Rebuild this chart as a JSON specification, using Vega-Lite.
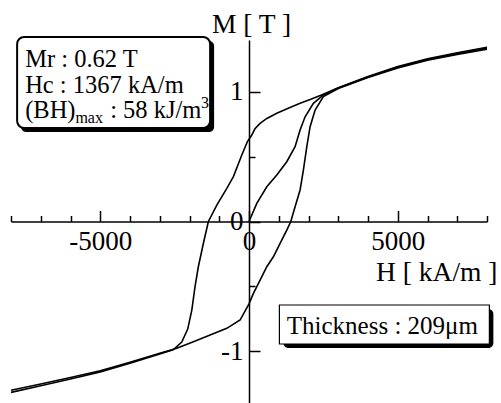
{
  "$schema": "https://vega.github.io/schema/vega-lite/v6.json",
  "width": 476,
  "height": 363,
  "autosize": {"type": "none"},
  "padding": {"left": 11, "top": 40, "right": 14, "bottom": 0},
  "background": "white",
  "config": {"view": {"stroke": null}, "font": "Liberation Serif", "axis": {"labelOverlap": false}},
  "resolve": {"axis": {"x": "independent", "y": "independent"}},
  "layer": [
    {
      "data": {"values": [
        {"branch": "desc", "i": 1, "H": 8000, "M": 1.344},
        {"branch": "desc", "i": 2, "H": 7000, "M": 1.302},
        {"branch": "desc", "i": 3, "H": 6000, "M": 1.256},
        {"branch": "desc", "i": 4, "H": 5000, "M": 1.195},
        {"branch": "desc", "i": 5, "H": 4000, "M": 1.118},
        {"branch": "desc", "i": 6, "H": 3000, "M": 1.031},
        {"branch": "desc", "i": 7, "H": 2500, "M": 0.982},
        {"branch": "desc", "i": 8, "H": 2100, "M": 0.945},
        {"branch": "desc", "i": 9, "H": 1717, "M": 0.912},
        {"branch": "desc", "i": 10, "H": 1300, "M": 0.872},
        {"branch": "desc", "i": 11, "H": 934, "M": 0.835},
        {"branch": "desc", "i": 12, "H": 600, "M": 0.795},
        {"branch": "desc", "i": 13, "H": 373, "M": 0.757},
        {"branch": "desc", "i": 14, "H": 200, "M": 0.715},
        {"branch": "desc", "i": 15, "H": 94, "M": 0.667},
        {"branch": "desc", "i": 16, "H": -54, "M": 0.616},
        {"branch": "desc", "i": 17, "H": -242, "M": 0.513},
        {"branch": "desc", "i": 18, "H": -524, "M": 0.346},
        {"branch": "desc", "i": 19, "H": -746, "M": 0.256},
        {"branch": "desc", "i": 20, "H": -1082, "M": 0.127},
        {"branch": "desc", "i": 21, "H": -1365, "M": 0},
        {"branch": "desc", "i": 22, "H": -1533, "M": -0.168},
        {"branch": "desc", "i": 23, "H": -1703, "M": -0.349},
        {"branch": "desc", "i": 24, "H": -1814, "M": -0.503},
        {"branch": "desc", "i": 25, "H": -1922, "M": -0.683},
        {"branch": "desc", "i": 26, "H": -2060, "M": -0.83},
        {"branch": "desc", "i": 27, "H": -2260, "M": -0.93},
        {"branch": "desc", "i": 28, "H": -2550, "M": -0.99},
        {"branch": "desc", "i": 29, "H": -3000, "M": -1.022},
        {"branch": "desc", "i": 30, "H": -4000, "M": -1.093},
        {"branch": "desc", "i": 31, "H": -5000, "M": -1.16},
        {"branch": "desc", "i": 32, "H": -6000, "M": -1.215},
        {"branch": "desc", "i": 33, "H": -7000, "M": -1.267},
        {"branch": "desc", "i": 34, "H": -8000, "M": -1.318},
        {"branch": "asc", "i": 1, "H": -8000, "M": -1.302},
        {"branch": "asc", "i": 2, "H": -7000, "M": -1.254},
        {"branch": "asc", "i": 3, "H": -6000, "M": -1.204},
        {"branch": "asc", "i": 4, "H": -5000, "M": -1.152},
        {"branch": "asc", "i": 5, "H": -4000, "M": -1.086},
        {"branch": "asc", "i": 6, "H": -3000, "M": -1.017},
        {"branch": "asc", "i": 7, "H": -2427, "M": -0.978},
        {"branch": "asc", "i": 8, "H": -1869, "M": -0.927},
        {"branch": "asc", "i": 9, "H": -1307, "M": -0.876},
        {"branch": "asc", "i": 10, "H": -746, "M": -0.824},
        {"branch": "asc", "i": 11, "H": -299, "M": -0.76},
        {"branch": "asc", "i": 12, "H": 0, "M": -0.635},
        {"branch": "asc", "i": 13, "H": 148, "M": -0.554},
        {"branch": "asc", "i": 14, "H": 373, "M": -0.452},
        {"branch": "asc", "i": 15, "H": 598, "M": -0.349},
        {"branch": "asc", "i": 16, "H": 820, "M": -0.272},
        {"branch": "asc", "i": 17, "H": 1045, "M": -0.168},
        {"branch": "asc", "i": 18, "H": 1270, "M": -0.066},
        {"branch": "asc", "i": 19, "H": 1405, "M": 0},
        {"branch": "asc", "i": 20, "H": 1549, "M": 0.114},
        {"branch": "asc", "i": 21, "H": 1717, "M": 0.243},
        {"branch": "asc", "i": 22, "H": 1828, "M": 0.397},
        {"branch": "asc", "i": 23, "H": 1943, "M": 0.577},
        {"branch": "asc", "i": 24, "H": 2054, "M": 0.731},
        {"branch": "asc", "i": 25, "H": 2222, "M": 0.86},
        {"branch": "asc", "i": 26, "H": 2500, "M": 0.963},
        {"branch": "asc", "i": 27, "H": 3000, "M": 1.026},
        {"branch": "asc", "i": 28, "H": 4000, "M": 1.111},
        {"branch": "asc", "i": 29, "H": 5000, "M": 1.185},
        {"branch": "asc", "i": 30, "H": 6000, "M": 1.244},
        {"branch": "asc", "i": 31, "H": 7000, "M": 1.288},
        {"branch": "asc", "i": 32, "H": 8000, "M": 1.328},
        {"branch": "init", "i": 1, "H": 0, "M": 0},
        {"branch": "init", "i": 2, "H": 262, "M": 0.14},
        {"branch": "init", "i": 3, "H": 598, "M": 0.268},
        {"branch": "init", "i": 4, "H": 934, "M": 0.359},
        {"branch": "init", "i": 5, "H": 1270, "M": 0.461},
        {"branch": "init", "i": 6, "H": 1549, "M": 0.577},
        {"branch": "init", "i": 7, "H": 1717, "M": 0.706},
        {"branch": "init", "i": 8, "H": 1886, "M": 0.808},
        {"branch": "init", "i": 9, "H": 2164, "M": 0.912},
        {"branch": "init", "i": 10, "H": 2500, "M": 0.976},
        {"branch": "init", "i": 11, "H": 3000, "M": 1.03},
        {"branch": "init", "i": 12, "H": 4000, "M": 1.115},
        {"branch": "init", "i": 13, "H": 5000, "M": 1.19},
        {"branch": "init", "i": 14, "H": 6000, "M": 1.25},
        {"branch": "init", "i": 15, "H": 7000, "M": 1.295},
        {"branch": "init", "i": 16, "H": 8000, "M": 1.336}
      ]},
      "mark": {"type": "line", "color": "black", "strokeWidth": 1.6, "clip": false},
      "encoding": {
        "x": {
          "field": "H", "type": "quantitative",
          "scale": {"domain": [-8000, 8000], "nice": false, "zero": false},
          "axis": {
            "orient": "bottom",
            "offset": -181.5,
            "values": [-5000, 0, 5000],
            "labelExpr": "datum.value === 0 ? '0' : datum.value === 5000 ? '5000' : '-5000'",
            "tickSize": -11,
            "tickColor": "black",
            "tickWidth": 1.5,
            "domainColor": "black",
            "domainWidth": 1.5,
            "labelFont": "Liberation Serif",
            "labelFontSize": 27,
            "labelColor": "black",
            "labelPadding": 18,
            "labelBaseline": "top",
            "labelFlush": false,
            "labelOverlap": false,
            "grid": false,
            "title": "H [ kA/m ]",
            "titleFont": "Liberation Serif",
            "titleFontSize": 27.5,
            "titleFontWeight": "normal",
            "titleColor": "black",
            "titleX": 486,
            "titleY": 58.5,
            "titleAlign": "right",
            "titleBaseline": "alphabetic"
          }
        },
        "y": {
          "field": "M", "type": "quantitative",
          "scale": {"domain": [-1.4, 1.4], "nice": false, "zero": false},
          "axis": {
            "orient": "left",
            "offset": -238,
            "values": [-1, 0, 1],
            "labelExpr": "datum.value === 0 ? '0' : datum.value === 1 ? '1' : '-1'",
            "tickSize": -11,
            "tickColor": "black",
            "tickWidth": 1.5,
            "domainColor": "black",
            "domainWidth": 1.5,
            "labelFont": "Liberation Serif",
            "labelFontSize": 27,
            "labelColor": "black",
            "labelPadding": 17,
            "labelAlign": "right",
            "labelBaseline": "middle",
            "labelFlush": false,
            "labelOverlap": false,
            "grid": false,
            "title": "M [ T ]",
            "titleFont": "Liberation Serif",
            "titleFontSize": 27.5,
            "titleFontWeight": "normal",
            "titleColor": "black",
            "titleAngle": 0,
            "titleX": 2,
            "titleY": -8,
            "titleAlign": "center",
            "titleBaseline": "alphabetic"
          }
        },
        "detail": {"field": "branch"},
        "order": {"field": "i", "type": "quantitative"}
      }
    },
    {
      "data": {"values": [
        {"x1": -7660, "x2": -1173, "y1": 1.392, "y2": 0.69},
        {"x1": 1156, "x2": 8214, "y1": -0.675, "y2": -0.976}
      ]},
      "mark": {"type": "rect", "fill": "black", "cornerRadius": 5, "clip": false},
      "encoding": {
        "x": {
          "field": "x1", "type": "quantitative",
          "axis": {
            "orient": "bottom",
            "offset": -181.5,
            "values": [-8000, -7000, -6000, -4000, -3000, -2000, -1000, 1000, 2000, 3000, 4000, 6000, 7000, 8000],
            "labels": false,
            "domain": false,
            "tickSize": -6,
            "tickColor": "black",
            "tickWidth": 1.5,
            "grid": false,
            "title": null
          }
        },
        "x2": {"field": "x2"},
        "y": {
          "field": "y1", "type": "quantitative",
          "axis": {
            "orient": "left",
            "offset": -238,
            "values": [-0.5, 0.5],
            "labels": false,
            "domain": false,
            "tickSize": -6,
            "tickColor": "black",
            "tickWidth": 1.5,
            "grid": false,
            "title": null
          }
        },
        "y2": {"field": "y2"}
      }
    },
    {
      "data": {"values": [
        {"x1": -7794, "x2": -1307, "y1": 1.423, "y2": 0.721}
      ]},
      "mark": {"type": "rect", "fill": "white", "stroke": "black", "strokeWidth": 2, "cornerRadius": 7, "clip": false},
      "encoding": {
        "x": {"field": "x1", "type": "quantitative", "axis": null},
        "x2": {"field": "x2"},
        "y": {"field": "y1", "type": "quantitative", "axis": null},
        "y2": {"field": "y2"}
      }
    },
    {
      "data": {"values": [
        {"x1": 1022, "x2": 8080, "y1": -0.644, "y2": -0.945}
      ]},
      "mark": {"type": "rect", "fill": "white", "stroke": "black", "strokeWidth": 1.2, "clip": false},
      "encoding": {
        "x": {"field": "x1", "type": "quantitative", "axis": null},
        "x2": {"field": "x2"},
        "y": {"field": "y1", "type": "quantitative", "axis": null},
        "y2": {"field": "y2"}
      }
    },
    {
      "data": {"values": [
        {"H": -7525, "M": 1.192, "label": "Mr : 0.62 T"},
        {"H": -7525, "M": 0.991, "label": "Hc : 1367 kA/m"},
        {"H": -7525, "M": 0.798, "label": "(BH)"},
        {"H": -4668, "M": 0.798, "label": ": 58 kJ/m"}
      ]},
      "mark": {"type": "text", "font": "Liberation Serif", "fontSize": 24.5, "align": "left", "baseline": "alphabetic", "color": "black", "clip": false},
      "encoding": {
        "x": {"field": "H", "type": "quantitative", "axis": null},
        "y": {"field": "M", "type": "quantitative", "axis": null},
        "text": {"field": "label"}
      }
    },
    {
      "data": {"values": [
        {"H": 1270, "M": -0.868, "label": "Thickness : 209μm"}
      ]},
      "mark": {"type": "text", "font": "Liberation Serif", "fontSize": 25, "align": "left", "baseline": "alphabetic", "color": "black", "clip": false},
      "encoding": {
        "x": {"field": "H", "type": "quantitative", "axis": null},
        "y": {"field": "M", "type": "quantitative", "axis": null},
        "text": {"field": "label"}
      }
    },
    {
      "data": {"values": [
        {"H": -5835, "M": 0.76, "label": "max"},
        {"H": -1610, "M": 0.876, "label": "3"}
      ]},
      "mark": {"type": "text", "font": "Liberation Serif", "fontSize": 16, "align": "left", "baseline": "alphabetic", "color": "black", "clip": false},
      "encoding": {
        "x": {"field": "H", "type": "quantitative", "axis": null},
        "y": {"field": "M", "type": "quantitative", "axis": null},
        "text": {"field": "label"}
      }
    }
  ]
}
